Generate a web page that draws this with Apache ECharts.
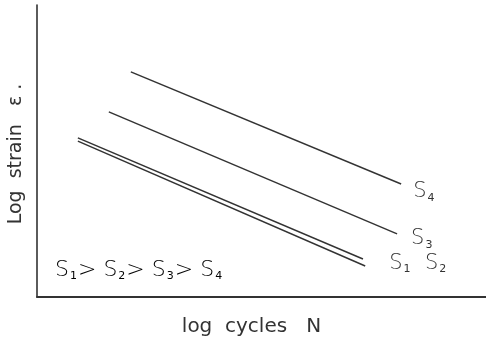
<!DOCTYPE html>
<html><head><meta charset="utf-8">
<script src="https://cdn.jsdelivr.net/npm/echarts@6/dist/echarts.min.js"></script>
<style>html,body{margin:0;padding:0;background:#fff}#c{width:486px;height:340px}</style>
</head><body><div id="c"></div>
<script>
// values in arbitrary log units
const seriesNames = ['S4', 'S3', 'S2', 'S1'];
const S4 = [[2.09, 7.71], [8.11, 3.87]];
const S3 = [[1.60, 6.34], [8.02, 2.16]];
const S2 = [[0.91, 5.45], [7.26, 1.30]];
const S1 = [[0.91, 5.34], [7.31, 1.06]];
const xName = 'log  cycles   N';
const yName = 'Log  strain   ε .';

const ink = '#333333';
const font = 'DejaVu Sans';
const rich = {
  s: {fontSize: 21, color: ink, fontFamily: font, fontWeight: 300},
  b: {fontSize: 11, color: ink, fontFamily: font, verticalAlign: 'bottom', padding: [12, 1, 0, 1]}
};
function lineSeries(name, data, label, offset) {
  return {
    name, type: 'line', data, symbol: 'none', silent: true,
    lineStyle: {color: ink, width: 1.5},
    endLabel: label ? {show: true, formatter: label, rich, offset: offset || [0, 0]} : {show: false}
  };
}
const chart = echarts.init(document.getElementById('c'));
chart.setOption({
  animation: false,
  grid: {left: 37, right: 0, top: 5, bottom: 43, containLabel: false, outerBoundsMode: 'none'},
  xAxis: {type: 'value', min: 0, max: 10,
    axisLine: {show: true, lineStyle: {color: ink, width: 2}},
    axisTick: {show: false}, axisLabel: {show: false}, splitLine: {show: false},
    name: xName, nameLocation: 'middle', nameGap: 20,
    nameTextStyle: {fontSize: 20, color: ink, fontFamily: font, padding: [0, 20, 0, 0]}},
  yAxis: {type: 'value', min: 0, max: 10,
    axisLine: {show: true, lineStyle: {color: ink, width: 1.6}},
    axisTick: {show: false}, axisLabel: {show: false}, splitLine: {show: false},
    name: yName, nameLocation: 'middle', nameGap: 11, nameRotate: 90,
    nameTextStyle: {fontSize: 19, color: ink, fontFamily: font, padding: [0, 6, 0, 0]}},
  series: [
    lineSeries('S4', S4, '{s|S}{b|4}', [4, 8]),
    lineSeries('S3', S3, '{s|S}{b|3}', [6, 5]),
    lineSeries('S2', S2, null),
    lineSeries('S1', S1, '{s|S}{b|1}{s|  S}{b|2}', [16, -3])
  ],
  graphic: [{
    type: 'text', left: 55, top: 259,
    style: {text: '{s|S}{b|1}{s|> S}{b|2}{s|> S}{b|3}{s|> S}{b|4}', rich: {
      s: {fontSize: 22, color: ink, fontFamily: font, fontWeight: 300},
      b: {fontSize: 11, color: ink, fontFamily: font, verticalAlign: 'bottom', padding: [12, 1, 0, 1]}
    }}
  }]
});
</script></body></html>
